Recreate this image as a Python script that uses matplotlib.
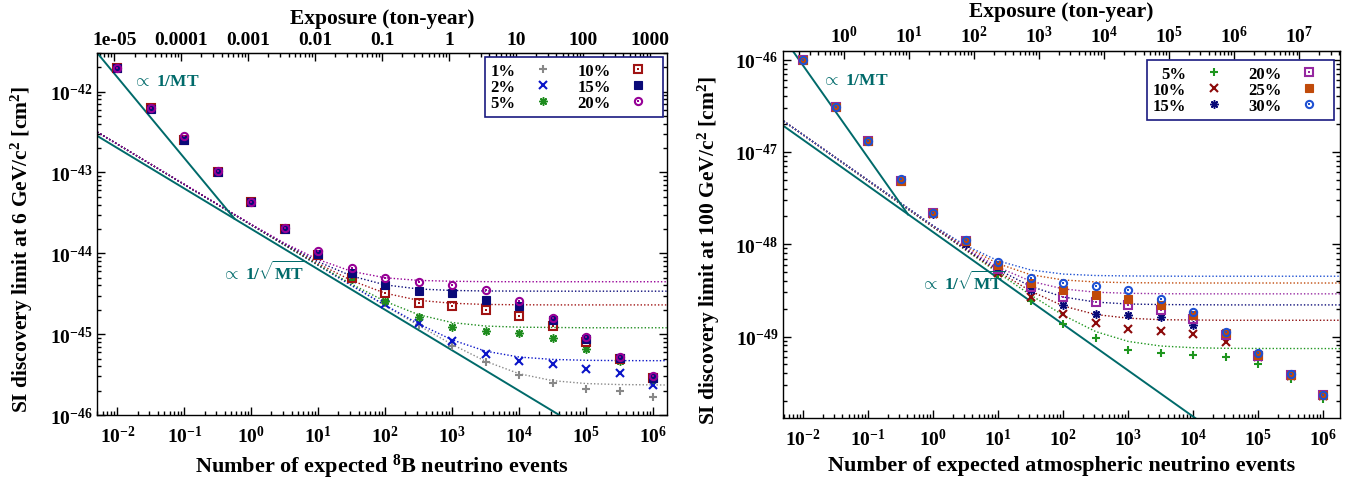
import numpy as np
import matplotlib
matplotlib.use('Agg')
import matplotlib.pyplot as plt
from matplotlib.ticker import FixedLocator, FixedFormatter, LogLocator, NullFormatter

plt.rcParams['font.family'] = ['Liberation Serif', 'DejaVu Serif']
plt.rcParams['font.weight'] = 'bold'
plt.rcParams['axes.labelweight'] = 'bold'
plt.rcParams['mathtext.fontset'] = 'custom'
plt.rcParams['mathtext.rm'] = 'Liberation Serif:bold'
plt.rcParams['mathtext.bf'] = 'Liberation Serif:bold'
plt.rcParams['mathtext.it'] = 'Liberation Serif:bold:italic'
plt.rcParams['mathtext.default'] = 'bf'

# ==========================================
# DATA: 8B panel (6 GeV/c^2)
# ==========================================
b8_events = [1e-2, 3.16e-2, 1e-1, 3.16e-1, 1, 3.16, 10, 31.6, 100, 316,
             1e3, 3.16e3, 1e4, 3.16e4, 1e5, 3.16e5, 1e6]
b8_labels = ['1%', '2%', '5%', '10%', '15%', '20%']
b8_1 = [1.94e-42, 6.2e-43, 2.55e-43, 1.02e-43, 4.3e-44, 2.0e-44, 9.5e-45, 4.7e-45,
        2.4e-45, 1.3e-45, 7.2e-46, 4.5e-46, 3.1e-46, 2.5e-46, 2.1e-46, 2.0e-46, 1.66e-46]
b8_2 = [1.94e-42, 6.2e-43, 2.55e-43, 1.02e-43, 4.3e-44, 2.0e-44, 9.5e-45, 4.8e-45,
        2.33e-45, 1.37e-45, 8.3e-46, 5.7e-46, 4.7e-46, 4.3e-46, 3.7e-46, 3.3e-46, 2.35e-46]
b8_5 = [1.94e-42, 6.2e-43, 2.55e-43, 1.02e-43, 4.3e-44, 2.0e-44, 9.6e-45, 4.8e-45,
        2.6e-45, 1.65e-45, 1.23e-45, 1.1e-45, 1.02e-45, 9.0e-46, 6.5e-46, 4.7e-46, 2.8e-46]
b8_10 = [1.94e-42, 6.2e-43, 2.5e-43, 1.02e-43, 4.3e-44, 2.0e-44, 9.6e-45, 5.0e-45,
         3.2e-45, 2.46e-45, 2.2e-45, 2.0e-45, 1.7e-45, 1.27e-45, 7.9e-46, 5.0e-46, 2.85e-46]
b8_15 = [1.94e-42, 6.1e-43, 2.5e-43, 1.02e-43, 4.3e-44, 2.0e-44, 9.8e-45, 5.7e-45,
         4.0e-45, 3.4e-45, 3.2e-45, 2.65e-45, 2.2e-45, 1.5e-45, 8.7e-46, 5.1e-46, 2.9e-46]
b8_20 = [1.96e-42, 6.3e-43, 2.8e-43, 1.04e-43, 4.35e-44, 2.05e-44, 1.07e-44, 6.6e-45,
         5.0e-45, 4.4e-45, 4.06e-45, 3.5e-45, 2.57e-45, 1.58e-45, 9.1e-46, 5.2e-46, 3.0e-46]

# dotted curves
b8_fit_events = [5e-3, 1, 3.16, 10, 31.6, 100, 316, 1e3, 3.16e3, 1e4, 3.16e4, 1e5, 3.16e5, 1e6, 1.6e6]
b8_fit_1 = [3.16e-43, 2.24e-44, 1.26e-44, 7.07e-45, 3.98e-45, 2.25e-45, 1.28e-45, 7.45e-46,
            4.62e-46, 3.24e-46, 2.66e-46, 2.45e-46, 2.38e-46, 2.36e-46, 2.35e-46]
b8_fit_2 = [3.16e-43, 2.24e-44, 1.26e-44, 7.09e-45, 4.0e-45, 2.28e-45, 1.34e-45, 8.49e-46,
            6.16e-46, 5.21e-46, 4.87e-46, 4.75e-46, 4.71e-46, 4.7e-46, 4.7e-46]
b8_fit_5 = [3.16e-43, 2.24e-44, 1.26e-44, 7.17e-45, 4.15e-45, 2.54e-45, 1.74e-45, 1.39e-45,
            1.26e-45, 1.22e-45, 1.21e-45, 1.2e-45, 1.2e-45, 1.2e-45, 1.2e-45]
b8_fit_10 = [3.16e-43, 2.25e-44, 1.28e-44, 7.44e-45, 4.59e-45, 3.21e-45, 2.62e-45, 2.41e-45,
             2.33e-45, 2.31e-45, 2.3e-45, 2.3e-45, 2.3e-45, 2.3e-45, 2.3e-45]
b8_fit_15 = [3.16e-43, 2.26e-44, 1.30e-44, 7.85e-45, 5.23e-45, 4.07e-45, 3.62e-45, 3.47e-45,
             3.42e-45, 3.41e-45, 3.4e-45, 3.4e-45, 3.4e-45, 3.4e-45, 3.4e-45]
b8_fit_20 = [3.16e-43, 2.28e-44, 1.33e-44, 8.35e-45, 5.97e-45, 4.98e-45, 4.62e-45, 4.51e-45,
             4.46e-45, 4.45e-45, 4.45e-45, 4.45e-45, 4.45e-45, 4.45e-45, 4.45e-45]

b8_mt_events = [5e-3, 0.56]
b8_mt_sigma = [3.0e-42, 2.68e-44]
b8_sqrt_events = [5e-3, 1e5]
b8_sqrt_sigma = [2.83e-43, 6.3e-47]

b8_yticks = [1e-46, 1e-45, 1e-44, 1e-43, 1e-42]
b8_top_ticks = [1e-5, 1e-4, 1e-3, 1e-2, 1e-1, 1, 10, 100, 1000]
b8_top_labels = ['1e-05', '0.0001', '0.001', '0.01', '0.1', '1', '10', '100', '1000']
b8_per_tonyear = 900.0

# ==========================================
# DATA: atmospheric panel (100 GeV/c^2)
# ==========================================
atm_events = b8_events
atm_labels = ['5%', '10%', '15%', '20%', '25%', '30%']
atm_5 = [1.0e-46, 3.1e-47, 1.33e-47, 4.9e-48, 2.15e-48, 1.05e-48, 4.7e-49, 2.43e-49,
         1.38e-49, 9.6e-50, 7.2e-50, 6.6e-50, 6.3e-50, 6.0e-50, 5.0e-50, 3.45e-50, 2.1e-50]
atm_10 = [1.0e-46, 3.1e-47, 1.33e-47, 4.9e-48, 2.15e-48, 1.06e-48, 4.9e-49, 2.65e-49,
          1.74e-49, 1.4e-49, 1.2e-49, 1.15e-49, 1.07e-49, 8.8e-50, 6.0e-50, 3.7e-50, 2.25e-50]
atm_15 = [1.0e-46, 3.1e-47, 1.33e-47, 5.0e-48, 2.15e-48, 1.0e-48, 5.2e-49, 3.2e-49,
          2.22e-49, 1.74e-49, 1.69e-49, 1.62e-49, 1.32e-49, 1.04e-49, 6.2e-50, 3.8e-50, 2.3e-50]
atm_20 = [1.0e-46, 3.1e-47, 1.33e-47, 4.9e-48, 2.18e-48, 1.08e-48, 5.4e-49, 3.4e-49,
          2.65e-49, 2.34e-49, 2.2e-49, 1.95e-49, 1.55e-49, 1.04e-49, 6.2e-50, 3.8e-50, 2.3e-50]
atm_25 = [1.0e-46, 3.1e-47, 1.33e-47, 4.9e-48, 2.18e-48, 1.08e-48, 5.9e-49, 3.8e-49,
          3.2e-49, 2.8e-49, 2.57e-49, 2.2e-49, 1.69e-49, 1.09e-49, 6.3e-50, 3.85e-50, 2.3e-50]
atm_30 = [1.0e-46, 3.1e-47, 1.33e-47, 5.1e-48, 2.18e-48, 1.1e-48, 6.4e-49, 4.3e-49,
          3.8e-49, 3.57e-49, 3.16e-49, 2.58e-49, 1.83e-49, 1.12e-49, 6.6e-50, 3.9e-50, 2.35e-50]

atm_fit_events = [5e-3, 1, 3.16, 10, 31.6, 100, 316, 1e3, 3.16e3, 1e4, 3.16e4, 1e5, 1.8e6]
atm_fit_5 = [2.16e-47, 1.53e-48, 8.62e-49, 4.88e-49, 2.81e-49, 1.7e-49, 1.13e-49, 8.84e-50,
             7.89e-50, 7.56e-50, 7.45e-50, 7.42e-50, 7.4e-50]
atm_fit_10 = [2.16e-47, 1.54e-48, 8.72e-49, 5.05e-49, 3.1e-49, 2.14e-49, 1.73e-49, 1.58e-49,
              1.52e-49, 1.51e-49, 1.5e-49, 1.5e-49, 1.5e-49]
atm_fit_15 = [2.16e-47, 1.55e-48, 8.86e-49, 5.3e-49, 3.49e-49, 2.68e-49, 2.36e-49, 2.25e-49,
              2.22e-49, 2.21e-49, 2.2e-49, 2.2e-49, 2.2e-49]
atm_fit_20 = [2.16e-47, 1.56e-48, 9.06e-49, 5.63e-49, 3.97e-49, 3.28e-49, 3.02e-49, 2.94e-49,
              2.91e-49, 2.9e-49, 2.9e-49, 2.9e-49, 2.9e-49]
atm_fit_25 = [2.16e-47, 1.58e-48, 9.39e-49, 6.14e-49, 4.67e-49, 4.1e-49, 3.9e-49, 3.83e-49,
              3.81e-49, 3.8e-49, 3.8e-49, 3.8e-49, 3.8e-49]
atm_fit_30 = [2.16e-47, 1.59e-48, 9.69e-49, 6.6e-49, 5.26e-49, 4.75e-49, 4.58e-49, 4.53e-49,
              4.51e-49, 4.5e-49, 4.5e-49, 4.5e-49, 4.5e-49]

atm_mt_events = [5e-3, 0.41]
atm_mt_sigma = [1.72e-46, 2.1e-48]
atm_sqrt_events = [5e-3, 1e5]
atm_sqrt_sigma = [1.91e-47, 4.27e-51]

atm_yticks = [1e-49, 1e-48, 1e-47, 1e-46]
atm_top_ticks = [1, 10, 100, 1e3, 1e4, 1e5, 1e6, 1e7]
atm_top_labels = [r'$10^{%d}$' % i for i in range(8)]
atm_per_tonyear = 0.0428

bottom_ticks = [1e-2, 1e-1, 1, 10, 100, 1e3, 1e4, 1e5, 1e6]
bottom_labels = [r'$10^{%d}$' % i for i in range(-2, 7)]

# ==========================================
# STYLES
# ==========================================
TEAL = '#006a6a'
b8_styles = [
    dict(marker='+', color='#888888', fill=True, dot=False),
    dict(marker='x', color='#0a14c8', fill=True, dot=False),
    dict(marker=(8, 2, 0), color='#1e8c1e', fill=True, dot=False),
    dict(marker='s', color='#a01414', fill=False, dot=True),
    dict(marker='s', color='#0a0a78', fill=True, dot=False),
    dict(marker='o', color='#960096', fill=False, dot=True),
]
atm_styles = [
    dict(marker='+', color='#1e961e', fill=True, dot=False),
    dict(marker='x', color='#8c0a0a', fill=True, dot=False),
    dict(marker=(8, 2, 0), color='#0a0a78', fill=True, dot=False),
    dict(marker='s', color='#9628a0', fill=False, dot=True),
    dict(marker='s', color='#c04a0a', fill=True, dot=False),
    dict(marker='o', color='#1e50d2', fill=False, dot=True),
]


def draw_series(ax, x, y, st):
    if st['fill']:
        if st['marker'] == 's':
            ms, mew = 5.8, 0.8
        elif st['marker'] == (8, 2, 0):
            ms, mew = 6.0, 1.1
        else:
            ms, mew = 6.0, 1.5
        h = ax.plot(x, y, linestyle='none', marker=st['marker'], ms=ms, mew=mew,
                    color=st['color'], mfc=st['color'])[0]
        return h
    h1 = ax.plot(x, y, linestyle='none', marker=st['marker'], ms=5.2, mew=1.5,
                 color=st['color'], mfc='none')[0]
    h2 = ax.plot(x, y, linestyle='none', marker='s', ms=1.5, mew=0,
                 color=st['color'])[0]
    return (h1, h2)


def setup_panel(ax, xlim, ylim, yticks, ylabel, xlabel, top_ticks, top_labels, per_ty, ylab_x):
    ax.set_xscale('log')
    ax.set_yscale('log')
    ax.set_xlim(*xlim)
    ax.set_ylim(*ylim)
    ax.xaxis.set_major_locator(FixedLocator(bottom_ticks))
    ax.xaxis.set_major_formatter(FixedFormatter(bottom_labels))
    ax.xaxis.set_minor_locator(LogLocator(base=10, subs=np.arange(2, 10), numticks=50))
    ax.xaxis.set_minor_formatter(NullFormatter())
    ax.yaxis.set_major_locator(FixedLocator(yticks))
    ax.yaxis.set_major_formatter(FixedFormatter(
        [r'$10^{%d}$' % int(round(np.log10(v))) for v in yticks]))
    ax.yaxis.set_minor_locator(LogLocator(base=10, subs=np.arange(2, 10), numticks=50))
    ax.yaxis.set_minor_formatter(NullFormatter())
    ax.tick_params(which='both', direction='in', top=False, right=True, labelsize=14, width=1)
    ax.tick_params(which='major', length=6)
    ax.tick_params(which='minor', length=3)
    ax.tick_params(axis='x', pad=7)
    for s in ax.spines.values():
        s.set_linewidth(1.0)
    ax.set_ylabel(ylabel, fontsize=15.5)
    ax.yaxis.set_label_coords(ylab_x, 0.46)
    ax.set_xlabel(xlabel, fontsize=16, labelpad=4)

    sec = ax.secondary_xaxis('top', functions=(lambda n: np.asarray(n) / per_ty,
                                                 lambda e: np.asarray(e) * per_ty))
    sec.xaxis.set_major_locator(FixedLocator(top_ticks))
    sec.xaxis.set_major_formatter(FixedFormatter(top_labels))
    sec.xaxis.set_minor_locator(LogLocator(base=10, subs=np.arange(2, 10), numticks=50))
    sec.xaxis.set_minor_formatter(NullFormatter())
    sec.tick_params(which='both', direction='in', labelsize=14, width=1)
    sec.tick_params(which='major', length=6)
    sec.tick_params(which='minor', length=3)
    sec.set_xlabel('Exposure (ton-year)', fontsize=15.5, labelpad=6)


def draw_legend(ax, handles, labels, anchor):
    leg = ax.legend(handles, labels, ncol=2, loc='upper right', bbox_to_anchor=anchor,
                    borderaxespad=0, markerfirst=False, numpoints=1, handlelength=2.3,
                    handletextpad=0.5, columnspacing=0.9, labelspacing=0.0,
                    fontsize=12, frameon=True, fancybox=False, borderpad=0.35)
    fr = leg.get_frame()
    fr.set_edgecolor('#1a1a80')
    fr.set_linewidth(1.2)
    fr.set_alpha(1)


fig = plt.figure(figsize=(13.51, 4.81), dpi=100)

# ---------------- left panel ----------------
ax1 = fig.add_axes([0.0720, 0.1351, 0.4215, 0.7526])
b8_series = [b8_1, b8_2, b8_5, b8_10, b8_15, b8_20]
b8_fits = [b8_fit_1, b8_fit_2, b8_fit_5, b8_fit_10, b8_fit_15, b8_fit_20]
for fit, st in zip(b8_fits, b8_styles):
    ax1.plot(b8_fit_events, fit, linestyle=(0, (1, 1.5)), lw=1.0, color=st['color'])
ax1.plot(b8_mt_events, b8_mt_sigma, color=TEAL, lw=1.4)
ax1.plot(b8_sqrt_events, b8_sqrt_sigma, color=TEAL, lw=1.4)
handles = [draw_series(ax1, b8_events, s, st) for s, st in zip(b8_series, b8_styles)]
setup_panel(ax1, (5.0e-3, 1.6e6), (1e-46, 3.0e-42), b8_yticks,
            r'SI discovery limit at 6 GeV/c$^2$ [cm$^2$]',
            r'Number of expected $^8$B neutrino events',
            b8_top_ticks, b8_top_labels, b8_per_tonyear, -0.109)
ax1.text(0.017, 1.34e-42, r'$\propto$ 1/MT', color=TEAL, fontsize=12.5, va='center')
ax1.text(0.37, 5.9e-45, r'$\propto$ 1/$\sqrt{\mathrm{MT}}$', color=TEAL, fontsize=12.5,
         va='center')
draw_legend(ax1, handles, b8_labels, (0.9935, 0.989))

# ---------------- right panel ----------------
ax2 = fig.add_axes([0.5796, 0.1283, 0.4123, 0.7642])
atm_series = [atm_5, atm_10, atm_15, atm_20, atm_25, atm_30]
atm_fits = [atm_fit_5, atm_fit_10, atm_fit_15, atm_fit_20, atm_fit_25, atm_fit_30]
for fit, st in zip(atm_fits, atm_styles):
    ax2.plot(atm_fit_events, fit, linestyle=(0, (1, 1.5)), lw=1.0, color=st['color'])
ax2.plot(atm_mt_events, atm_mt_sigma, color=TEAL, lw=1.4)
ax2.plot(atm_sqrt_events, atm_sqrt_sigma, color=TEAL, lw=1.4)
handles = [draw_series(ax2, atm_events, s, st) for s, st in zip(atm_series, atm_styles)]
setup_panel(ax2, (4.9e-3, 1.8e6), (1.3e-50, 1.25e-46), atm_yticks,
            r'SI discovery limit at 100 GeV/c$^2$ [cm$^2$]',
            'Number of expected atmospheric neutrino events',
            atm_top_ticks, atm_top_labels, atm_per_tonyear, -0.11)
ax2.text(0.0195, 6.0e-47, r'$\propto$ 1/MT', color=TEAL, fontsize=12.5, va='center')
ax2.text(0.65, 4.0e-49, r'$\propto$ 1/$\sqrt{\mathrm{MT}}$', color=TEAL, fontsize=12.5,
         va='center')
draw_legend(ax2, handles, atm_labels, (0.9888, 0.974))

fig.savefig('out.png', dpi=100)
